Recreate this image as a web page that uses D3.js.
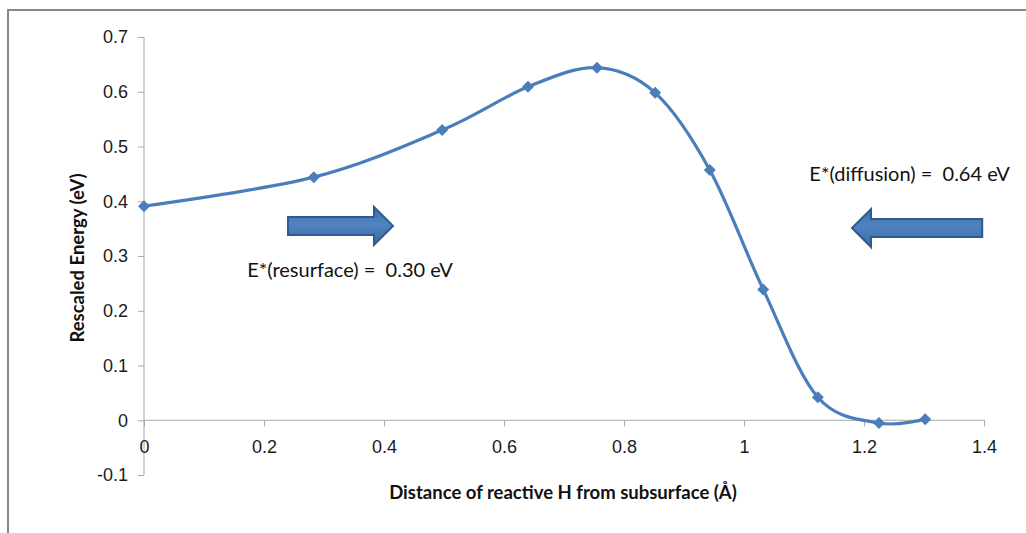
<!DOCTYPE html>
<html>
<head>
<meta charset="utf-8">
<script src="https://cdn.jsdelivr.net/npm/d3@7"></script>
<style>
  body { margin: 0; background: #fff; }
  svg { display: block; font-family: Lato, "Open Sans", sans-serif; }
  .axis path, .axis line { stroke: #a8a8a8; }
  .axis text { fill: #1a1a1a; font-size: 18px; }
  .note { white-space: pre; }
</style>
</head>
<body>
<div id="chart-area"></div>
<script>
// Data
var distance = [0, 0.283, 0.497, 0.640, 0.755, 0.852, 0.943, 1.032, 1.123, 1.225, 1.302];
var energy   = [0.391, 0.444, 0.530, 0.609, 0.644, 0.598, 0.457, 0.239, 0.042, -0.005, 0.002];
var xTicks = [0, 0.2, 0.4, 0.6, 0.8, 1, 1.2, 1.4];
var yTicks = [-0.1, 0, 0.1, 0.2, 0.3, 0.4, 0.5, 0.6, 0.7];

// annotations (data coordinates)
var arrowRight = { x0: 0.24, x1: 0.415, y: 0.355 };
var arrowLeft  = { x0: 1.397, x1: 1.18, y: 0.351 };
var notes = [
  { x: 0.172, y: 0.262, anchor: "start", text: "E*(resurface) =  0.30 eV" },
  { x: 1.443, y: 0.437, anchor: "end", text: "E*(diffusion) =  0.64 eV" }
];

var points = distance.map(function (d, i) { return { x: d, y: energy[i] }; });

var width = 1026, height = 533;
var margin = { left: 144, top: 37 };
var plotW = 840, plotH = 438;

var svg = d3.select("#chart-area").append("svg")
  .attr("width", width)
  .attr("height", height);

svg.append("rect")
  .attr("width", width).attr("height", height)
  .attr("fill", "#fff");

// chart frame
svg.append("rect")
  .attr("x", 8).attr("y", 10)
  .attr("width", 1040).attr("height", 560)
  .attr("fill", "none")
  .attr("stroke", "#878787")
  .attr("stroke-width", 2);

var defs = svg.append("defs");
var grad = defs.append("linearGradient")
  .attr("id", "arrowFill")
  .attr("x1", 0).attr("y1", 0).attr("x2", 0).attr("y2", 1);
grad.append("stop").attr("offset", "0%").attr("stop-color", "#3f6eab");
grad.append("stop").attr("offset", "45%").attr("stop-color", "#5083c1");
grad.append("stop").attr("offset", "100%").attr("stop-color", "#3d6aa6");

var g = svg.append("g")
  .attr("transform", "translate(" + margin.left + "," + margin.top + ")");

var x = d3.scaleLinear().domain([0, 1.4]).range([0, plotW]);
var y = d3.scaleLinear().domain([-0.1, 0.7]).range([plotH, 0]);

var fmt = function (d) { return String(+d.toFixed(1)); };

// y axis
var yAxis = d3.axisLeft(y).tickValues(yTicks).tickSize(6).tickPadding(10).tickFormat(fmt);
g.append("g").attr("class", "axis y-axis").call(yAxis)
  .call(function (s) { s.select(".domain").attr("d", "M0," + y(-0.1) + "V" + y(0.7)); });

// x axis at y = 0
var xAxis = d3.axisBottom(x).tickValues(xTicks).tickSize(6).tickPadding(14).tickFormat(fmt);
g.append("g").attr("class", "axis x-axis")
  .attr("transform", "translate(0," + y(0) + ")")
  .call(xAxis)
  .call(function (s) { s.select(".domain").attr("d", "M0,0H" + plotW); });

// axis titles
svg.append("text")
  .attr("x", 563).attr("y", 499)
  .attr("text-anchor", "middle")
  .attr("font-size", "18.5px")
  .attr("font-weight", "bold")
  .attr("fill", "#111")
  .text("Distance of reactive H from subsurface (\u00C5)");

svg.append("text")
  .attr("transform", "translate(84,258) rotate(-90)")
  .attr("text-anchor", "middle")
  .attr("font-size", "18.5px")
  .attr("font-weight", "bold")
  .attr("fill", "#111")
  .text("Rescaled Energy (eV)");

// smoothed line
var line = d3.line()
  .x(function (d) { return x(d.x); })
  .y(function (d) { return y(d.y); })
  .curve(d3.curveCardinal.tension(0));

g.append("path")
  .datum(points)
  .attr("fill", "none")
  .attr("stroke", "#4a7ebb")
  .attr("stroke-width", 3.2)
  .attr("d", line);

g.selectAll(".marker")
  .data(points).enter()
  .append("path")
  .attr("class", "marker")
  .attr("d", d3.symbol(d3.symbolSquare, 72))
  .attr("transform", function (d) { return "translate(" + x(d.x) + "," + y(d.y) + ") rotate(45)"; })
  .attr("fill", "#4a7ebb");

// block arrows
function blockArrow(a) {
  var xs = x(a.x0), xe = x(a.x1), yc = y(a.y);
  var dir = xe > xs ? 1 : -1;
  var head = 19, shaft = 9, headHalf = 19;
  var xb = xe - dir * head;
  return "M" + xs + "," + (yc - shaft) +
    "L" + xb + "," + (yc - shaft) +
    "L" + xb + "," + (yc - headHalf) +
    "L" + xe + "," + yc +
    "L" + xb + "," + (yc + headHalf) +
    "L" + xb + "," + (yc + shaft) +
    "L" + xs + "," + (yc + shaft) + "Z";
}

g.selectAll(".arrow")
  .data([arrowRight, arrowLeft]).enter()
  .append("path")
  .attr("class", "arrow")
  .attr("d", blockArrow)
  .attr("fill", "url(#arrowFill)")
  .attr("stroke", "#2f5a8e")
  .attr("stroke-width", 2)
  .attr("stroke-linejoin", "miter");

g.selectAll(".note")
  .data(notes).enter()
  .append("text")
  .attr("class", "note")
  .attr("x", function (d) { return x(d.x); })
  .attr("y", function (d) { return y(d.y); })
  .attr("text-anchor", function (d) { return d.anchor; })
  .attr("font-size", "20px")
  .attr("fill", "#111")
  .text(function (d) { return d.text; });
</script>
</body>
</html>
